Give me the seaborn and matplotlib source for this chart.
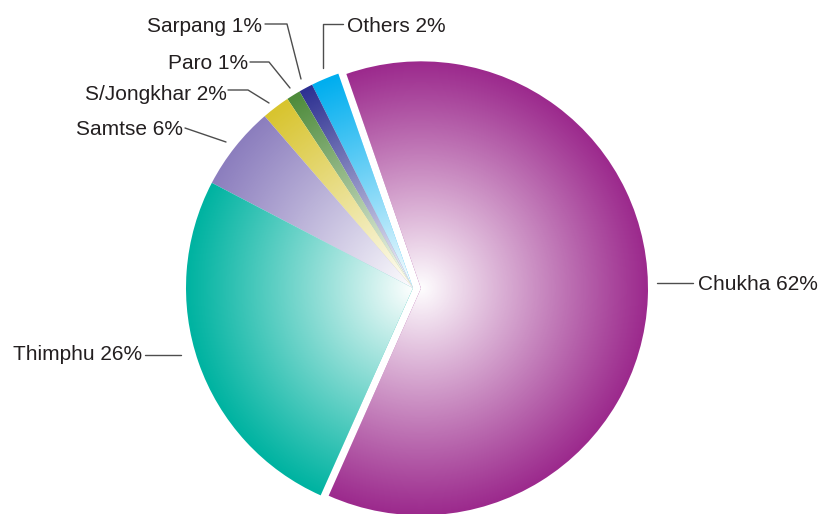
import numpy as np
import matplotlib
matplotlib.use("Agg")
from matplotlib import pyplot as plt
import seaborn as sns

# District shares (%)
districts = ['Chukha', 'Others', 'Sarpang', 'Paro', 'S/Jongkhar', 'Samtse', 'Thimphu']
shares = [62, 2, 1, 1, 2, 6, 26]
colors = ['#9C2A8D', '#00AEEF', '#2E3192', '#4E8B3B', '#D8C42E', '#8C7EBE', '#00B3A1']

sns.set_style('white')
plt.rcParams['font.family'] = ['Liberation Sans', 'DejaVu Sans']

W, H = 820, 514
fig = plt.figure(figsize=(W / 100, H / 100), dpi=100)
ax = fig.add_axes([0, 0, 1, 1])

# pixel -> data (y up)
def py(y):
    return H - y

cx, cy, R = 413, py(288), 227
explode = [8, 0, 0, 0, 0, 0, 0]

wedges, _ = ax.pie(shares, colors=sns.color_palette(colors), startangle=-114,
                   counterclock=True, center=(cx, cy), radius=R, explode=explode,
                   wedgeprops=dict(linewidth=0, edgecolor='none'))

# radial white highlight from the centre of each wedge
n = 500
for w in wedges:
    wx, wy = w.center
    xs = np.linspace(wx - R, wx + R, n)
    ys = np.linspace(wy - R, wy + R, n)
    X, Y = np.meshgrid(xs, ys)
    t = np.sqrt((X - wx) ** 2 + (Y - wy) ** 2) / R
    img = np.ones((n, n, 4))
    img[..., 3] = np.clip(1 - t, 0, 1) ** 1.05
    im = ax.imshow(img, extent=(wx - R, wx + R, wy - R, wy + R), origin='lower',
                   zorder=3, interpolation='bilinear')
    im.set_clip_path(w)

# leader lines and labels (pixel coords)
line_kw = dict(color='#4D4D4D', lw=1.0, zorder=5)
txt_kw = dict(fontsize=15, color='#231F20', va='center', zorder=6)

leaders = {
    'Chukha': [(657, 283), (693, 283)],
    'Thimphu': [(145, 355), (181, 355)],
    'Samtse': [(185, 128), (226, 142)],
    'S/Jongkhar': [(228, 90), (248, 90), (269, 103)],
    'Paro': [(250, 62), (269, 62), (290, 88)],
    'Sarpang': [(265, 24), (287, 24), (301, 79)],
    'Others': [(343, 24), (323, 24), (323, 68)],
}
label_pos = {
    'Chukha': (698, 284, 'left'),
    'Thimphu': (142, 355, 'right'),
    'Samtse': (183, 129, 'right'),
    'S/Jongkhar': (227, 94, 'right'),
    'Paro': (248, 63, 'right'),
    'Sarpang': (262, 26, 'right'),
    'Others': (347, 26, 'left'),
}

for name, val in zip(districts, shares):
    pts = leaders[name]
    ax.plot([p[0] for p in pts], [py(p[1]) for p in pts], **line_kw)
    x, y, ha = label_pos[name]
    ax.text(x, py(y), f'{name} {val}%', ha=ha, **txt_kw)

ax.set_xlim(0, W)
ax.set_ylim(0, H)
ax.set_aspect('equal')
ax.axis('off')

fig.savefig('out.png', dpi=100)
